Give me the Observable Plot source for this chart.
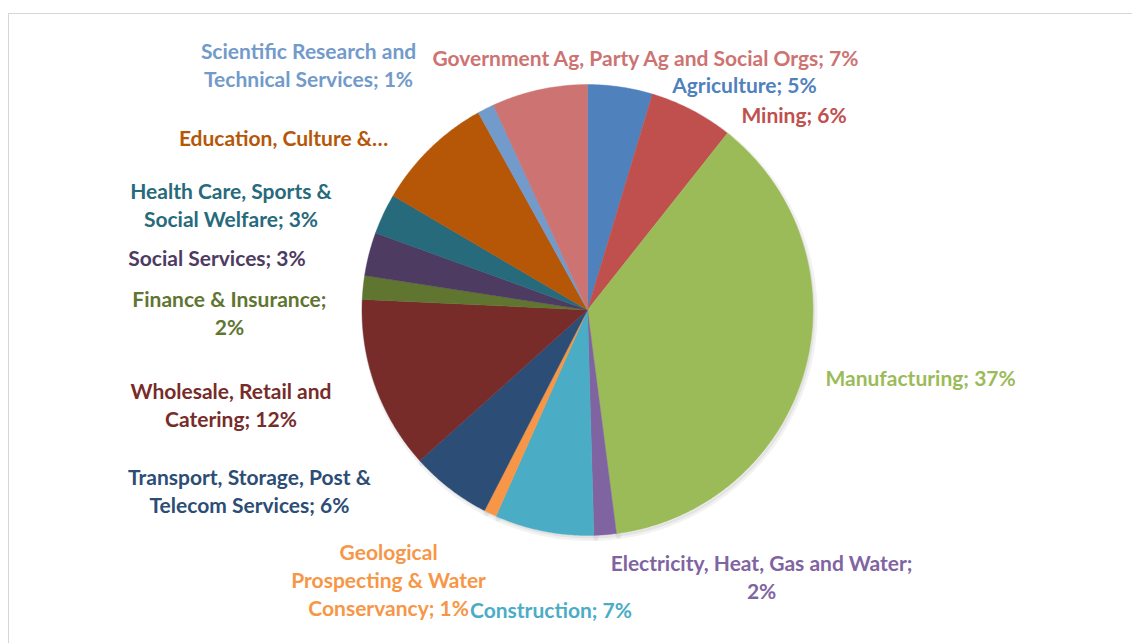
<!DOCTYPE html>
<html>
<head>
<meta charset="utf-8">
<script src="https://cdn.jsdelivr.net/npm/d3@7"></script>
<script src="https://cdn.jsdelivr.net/npm/@observablehq/plot@0.6"></script>
<style>
  html, body { margin: 0; padding: 0; background: #ffffff; overflow: hidden; }
  #wrap { position: relative; width: 1132px; height: 643px; }
  #frame { position: absolute; left: 8px; top: 13px; width: 1200px; height: 700px;
           border: 1px solid #d6d6d6; box-sizing: border-box; pointer-events: none; }
  #chart { position: absolute; left: 0; top: 0; }
</style>
</head>
<body>
<div id="wrap"><div id="frame"></div><div id="chart"></div></div>
<script>
// ---- data (clockwise from 12 o'clock) ----
const categories = [
  "Agriculture", "Mining", "Manufacturing", "Electricity, Heat, Gas and Water",
  "Construction", "Geological Prospecting & Water Conservancy",
  "Transport, Storage, Post & Telecom Services", "Wholesale, Retail and Catering",
  "Finance & Insurance", "Social Services", "Health Care, Sports & Social Welfare",
  "Education, Culture & Arts", "Scientific Research and Technical Services",
  "Government Ag, Party Ag and Social Orgs"
];
const shares = [4.65, 6.0, 37.3, 1.6, 7.1, 0.9, 5.8, 12.4, 1.7, 3.1, 2.9, 8.5, 1.2, 6.85];
const labelTexts = [
  "Agriculture; 5%",
  "Mining; 6%",
  "Manufacturing; 37%",
  "Electricity, Heat, Gas and Water;\n2%",
  "Construction; 7%",
  "Geological\nProspecting & Water\nConservancy; 1%",
  "Transport, Storage, Post &\nTelecom Services; 6%",
  "Wholesale, Retail and\nCatering; 12%",
  "Finance & Insurance;\n2%",
  "Social Services; 3%",
  "Health Care, Sports &\nSocial Welfare; 3%",
  "Education, Culture &\u2026",
  "Scientific Research and\nTechnical Services; 1%",
  "Government Ag, Party Ag and Social Orgs; 7%"
];

// ---- style / layout (kept apart from the data) ----
const palette = ["#4F81BD", "#C0504D", "#9BBB59", "#8064A2", "#4BACC6", "#F79646",
  "#2C4D75", "#772C2A", "#5F7530", "#4D3B62", "#276A7C", "#B65708", "#729ACA", "#CD7371"];
// label block centres in pie-radius units (x right, y up), as placed in the original
const labelAt = [
  [0.696, 1.004], [0.916, 0.871], [1.477, -0.299], [0.772, -1.180],
  [-0.162, -1.328], [-0.882, -1.195], [-1.499, -0.800], [-1.581, -0.415],
  [-1.588, -0.007], [-1.643, 0.233], [-1.581, 0.472], [-1.348, 0.769],
  [-1.237, 1.089], [0.257, 1.120]
];
const cx = 587, cy = 309.5, R = 225.5;

// ---- slice geometry from d3.pie ----
const arcs = d3.pie().sort(null).value(d => d)(shares);
const slicePts = [];
arcs.forEach((a, i) => {
  const name = categories[i];
  slicePts.push({name, x: 0, y: 0});
  const n = Math.max(2, Math.ceil((a.endAngle - a.startAngle) / (Math.PI / 360)));
  for (let k = 0; k <= n; k++) {
    const t = a.startAngle + (a.endAngle - a.startAngle) * k / n;
    slicePts.push({name, x: Math.sin(t), y: Math.cos(t)});
  }
  slicePts.push({name, x: 0, y: 0});
});
const labels = categories.map((name, i) => ({
  name, text: labelTexts[i], x: labelAt[i][0], y: labelAt[i][1]
}));

const chart = Plot.plot({
  width: 1132,
  height: 643,
  style: {background: "transparent", fontFamily: "Lato, 'Open Sans', sans-serif"},
  x: {type: "linear", domain: [-1, 1], range: [cx - R, cx + R], axis: null},
  y: {type: "linear", domain: [-1, 1], range: [cy + R, cy - R], axis: null},
  color: {domain: categories, range: palette},
  marks: [
    // soft shadow under the pie (same geometry, offset, translucent)
    Plot.line(slicePts, {x: "x", y: "y", z: "name", fill: "#000000", fillOpacity: 0.06,
      stroke: "#000000", strokeOpacity: 0.05, strokeWidth: 5, dx: 2, dy: 3}),
    Plot.line(slicePts, {x: "x", y: "y", z: "name", fill: "name", stroke: "name",
      strokeWidth: 0.4}),
    Plot.text(labels, {x: "x", y: "y", text: "text", fill: "name",
      fontSize: 21, fontWeight: "bold", lineHeight: 1.333, textAnchor: "middle",
      fontFamily: "Lato, 'Open Sans', sans-serif"})
  ]
});
document.getElementById("chart").append(chart);
</script>
</body>
</html>
